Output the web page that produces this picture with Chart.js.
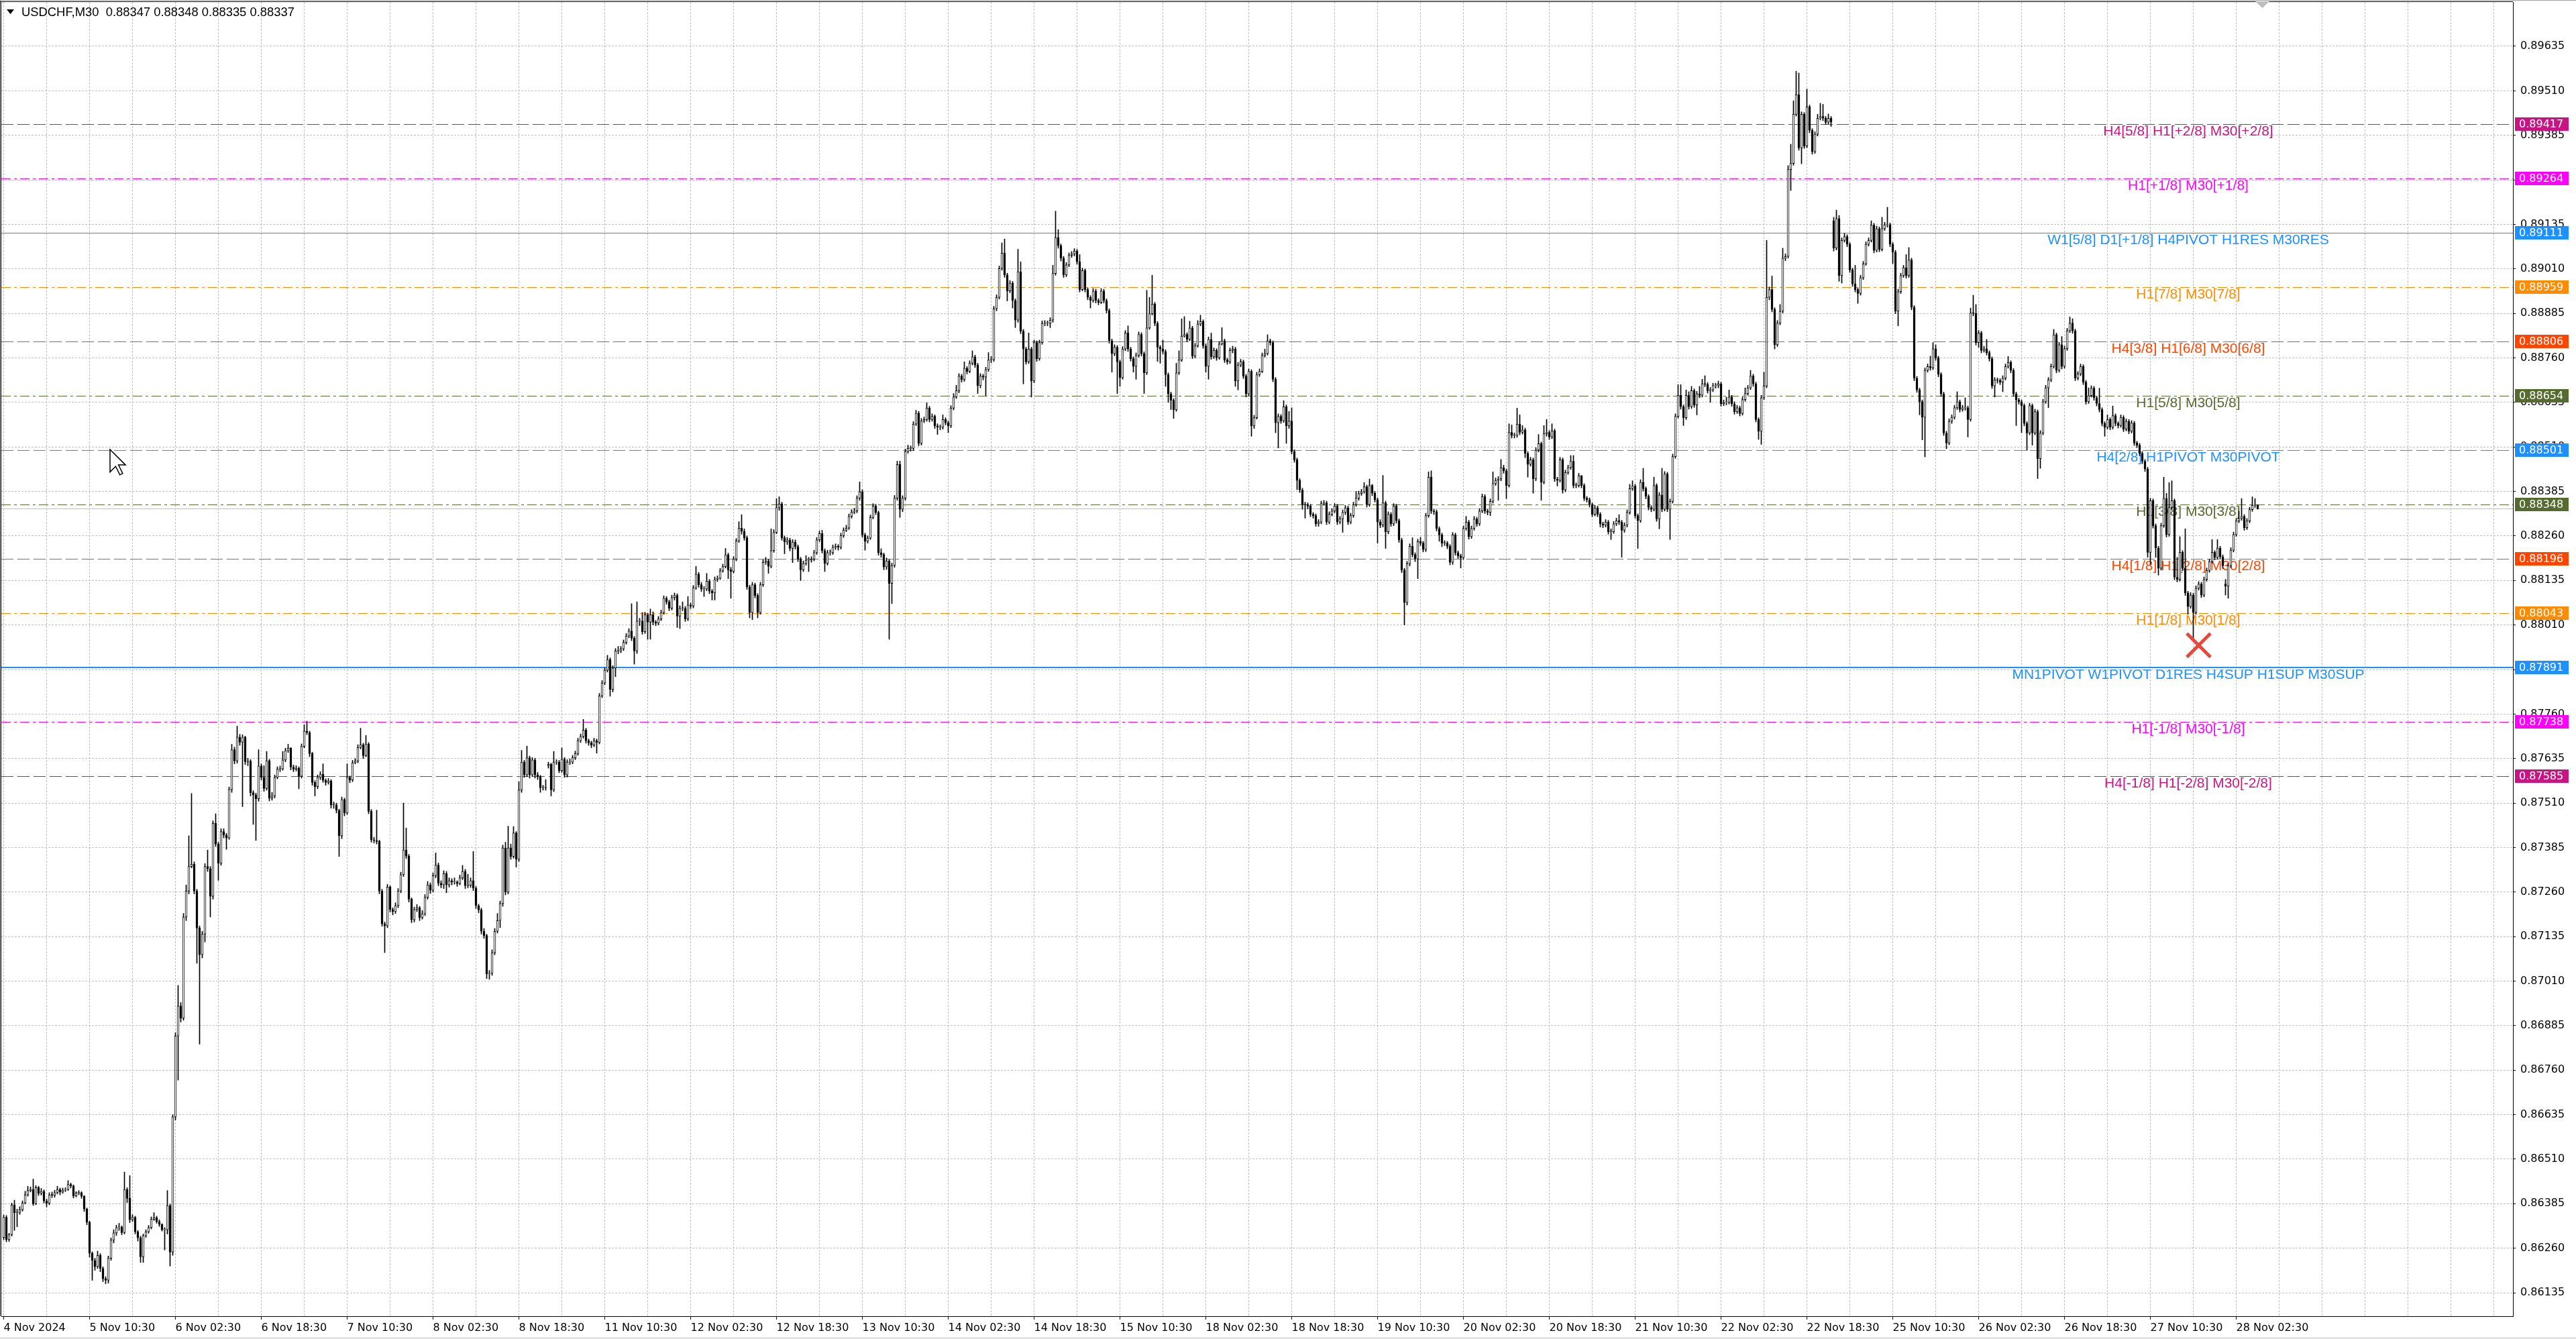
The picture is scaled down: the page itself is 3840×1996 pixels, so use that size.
<!DOCTYPE html>
<html>
<head>
<meta charset="utf-8">
<script src="https://cdn.jsdelivr.net/npm/chart.js@4.4.1/dist/chart.umd.min.js"></script>
<style>
  html, body { margin: 0; padding: 0; background: #fff; overflow: hidden; }
  #wrap { width: 3840px; height: 1996px; position: relative; }
</style>
</head>
<body>
<div id="wrap"><canvas id="chart" width="3840" height="1996"></canvas></div>
<script>
// USDCHF M30 with Murrey-math style levels, prices stored as points above 0.86000
const BASE = 0.86;

const symbolTitle = 'USDCHF,M30  0.88347 0.88348 0.88335 0.88337';

// one label every 32 bars (16 hours)
const timeLabels = ['4 Nov 2024', '5 Nov 10:30', '6 Nov 02:30', '6 Nov 18:30', '7 Nov 10:30', '8 Nov 02:30',
  '8 Nov 18:30', '11 Nov 10:30', '12 Nov 02:30', '12 Nov 18:30', '13 Nov 10:30', '14 Nov 02:30',
  '14 Nov 18:30', '15 Nov 10:30', '18 Nov 02:30', '18 Nov 18:30', '19 Nov 10:30', '20 Nov 02:30',
  '20 Nov 18:30', '21 Nov 10:30', '22 Nov 02:30', '22 Nov 18:30', '25 Nov 10:30', '26 Nov 02:30',
  '26 Nov 18:30', '27 Nov 10:30', '28 Nov 02:30'];

const yTickValues = [0.86135, 0.86260, 0.86385, 0.86510, 0.86635, 0.86760, 0.86885, 0.87010, 0.87135,
  0.87260, 0.87385, 0.87510, 0.87635, 0.87760, 0.87885, 0.88010, 0.88135, 0.88260, 0.88385, 0.88510,
  0.88635, 0.88760, 0.88885, 0.89010, 0.89135, 0.89260, 0.89385, 0.89510, 0.89635];

// close / high / low of every bar (points above 0.86000); open = previous close unless listed in gapOpens
const closePts = [
  347, 284, 298, 381, 360, 361, 368, 387, 410, 422,
  425, 385, 430, 414, 420, 393, 386, 410, 409, 416,
  425, 418, 423, 425, 439, 435, 407, 415, 416, 406,
  370, 333, 246, 226, 208, 240, 203, 174, 170, 232,
  283, 303, 318, 319, 304, 425, 400, 340, 347, 306,
  289, 236, 295, 306, 318, 341, 346, 335, 327, 312,
  312, 380, 249, 629, 856, 940, 906, 1190, 1263, 1332,
  1338, 1263, 1159, 1084, 1142, 1332, 1326, 1248, 1453, 1395,
  1341, 1430, 1420, 1412, 1548, 1660, 1628, 1695, 1681, 1695,
  1626, 1628, 1539, 1533, 1522, 1614, 1582, 1551, 1629, 1524,
  1530, 1582, 1605, 1606, 1631, 1657, 1664, 1611, 1605, 1608,
  1585, 1669, 1712, 1708, 1649, 1568, 1556, 1582, 1591, 1574,
  1568, 1572, 1505, 1505, 1490, 1418, 1520, 1482, 1582, 1575,
  1623, 1628, 1666, 1674, 1643, 1676, 1487, 1407, 1405, 1402,
  1263, 1171, 1165, 1274, 1211, 1205, 1222, 1263, 1309, 1378,
  1361, 1240, 1182, 1211, 1216, 1188, 1199, 1245, 1280, 1265,
  1306, 1336, 1285, 1280, 1312, 1280, 1292, 1288, 1288, 1284,
  1300, 1318, 1278, 1279, 1292, 1271, 1222, 1210, 1150, 1138,
  1030, 1032, 1090, 1150, 1180, 1228, 1384, 1260, 1384, 1360,
  1426, 1352, 1547, 1625, 1589, 1637, 1589, 1631, 1589, 1584,
  1553, 1553, 1553, 1619, 1547, 1625, 1625, 1601, 1633, 1589,
  1625, 1625, 1637, 1649, 1685, 1697, 1715, 1685, 1679, 1673,
  1685, 1680, 1811, 1847, 1883, 1913, 1829, 1889, 1937, 1937,
  1943, 1961, 1979, 1993, 1973, 1937, 2021, 2021, 1991, 2039,
  2018, 2039, 2018, 2015, 2027, 2045, 2085, 2075, 2057, 2087,
  2093, 2035, 2057, 2057, 2027, 2066, 2063, 2114, 2153, 2123,
  2111, 2111, 2133, 2105, 2100, 2138, 2141, 2162, 2174, 2207,
  2165, 2160, 2195, 2246, 2282, 2273, 2255, 2117, 2045, 2123,
  2093, 2045, 2123, 2186, 2190, 2175, 2219, 2270, 2340, 2350,
  2255, 2243, 2249, 2225, 2243, 2230, 2195, 2165, 2183, 2192,
  2192, 2195, 2213, 2249, 2267, 2219, 2183, 2213, 2213, 2228,
  2231, 2228, 2261, 2276, 2282, 2315, 2327, 2330, 2366, 2384,
  2263, 2245, 2254, 2312, 2344, 2326, 2213, 2208, 2173, 2190,
  2127, 2177, 2366, 2461, 2335, 2366, 2497, 2506, 2506, 2574,
  2605, 2520, 2583, 2587, 2619, 2587, 2596, 2569, 2565, 2565,
  2587, 2578, 2569, 2619, 2650, 2668, 2709, 2699, 2731, 2722,
  2745, 2763, 2740, 2682, 2709, 2706, 2727, 2754, 2755, 2898,
  2930, 3011, 3054, 2993, 2948, 2970, 2921, 2866, 3002, 2835,
  2785, 2749, 2785, 2695, 2803, 2758, 2803, 2857, 2857, 2857,
  2866, 2997, 3098, 3075, 3040, 2993, 3021, 3048, 3052, 3060,
  3030, 2952, 3005, 2952, 2930, 2921, 2948, 2921, 2916, 2948,
  2921, 2893, 2808, 2772, 2790, 2749, 2704, 2785, 2830, 2785,
  2758, 2736, 2767, 2826, 2772, 2718, 2844, 2884, 2911, 2857,
  2790, 2785, 2778, 2713, 2659, 2641, 2614, 2718, 2754, 2821,
  2826, 2812, 2844, 2765, 2794, 2855, 2862, 2794, 2736, 2812,
  2763, 2781, 2760, 2799, 2808, 2754, 2749, 2781, 2785, 2695,
  2740, 2749, 2709, 2659, 2722, 2569, 2592, 2713, 2722, 2767,
  2772, 2808, 2803, 2700, 2578, 2596, 2583, 2623, 2569, 2583,
  2497, 2474, 2416, 2389, 2348, 2348, 2344, 2321, 2317, 2294,
  2299, 2351, 2353, 2299, 2321, 2330, 2344, 2299, 2308, 2326,
  2339, 2299, 2317, 2348, 2366, 2379, 2384, 2398, 2348, 2402,
  2380, 2362, 2299, 2290, 2353, 2272, 2321, 2294, 2344, 2303,
  2249, 2164, 2073, 2182, 2231, 2208, 2195, 2244, 2240, 2222,
  2317, 2425, 2330, 2328, 2281, 2263, 2240, 2240, 2231, 2186,
  2263, 2213, 2204, 2199, 2281, 2299, 2258, 2281, 2308, 2294,
  2330, 2371, 2330, 2326, 2357, 2407, 2416, 2420, 2452, 2443,
  2402, 2551, 2542, 2542, 2574, 2551, 2558, 2492, 2461, 2474,
  2420, 2501, 2519, 2411, 2547, 2551, 2538, 2555, 2420, 2416,
  2474, 2389, 2438, 2452, 2470, 2402, 2402, 2429, 2402, 2366,
  2362, 2348, 2321, 2339, 2321, 2294, 2290, 2299, 2272, 2272,
  2294, 2303, 2299, 2276, 2290, 2326, 2393, 2400, 2317, 2303,
  2411, 2393, 2371, 2340, 2335, 2402, 2308, 2375, 2335, 2434,
  2335, 2357, 2483, 2596, 2655, 2623, 2592, 2655, 2623, 2668,
  2628, 2659, 2655, 2688, 2686, 2668, 2670, 2682, 2682, 2687,
  2631, 2635, 2635, 2650, 2631, 2609, 2620, 2604, 2643, 2660,
  2676, 2709, 2687, 2587, 2554, 2648, 2681, 2930, 2952, 2896,
  2797, 2858, 2891, 3040, 3045, 3289, 3306, 3444, 3499, 3350,
  3444, 3355, 3465, 3399, 3339, 3388, 3433, 3438, 3433, 3422,
  3433, 3422, 3068, 3151, 2991, 3090, 3101, 3079, 3007, 2968,
  2952, 2941, 2985, 3024, 3079, 3090, 3133, 3062, 3123, 3065,
  3123, 3134, 3134, 3079, 3057, 2891, 2946, 2991, 3013, 2991,
  3035, 2902, 2703, 2670, 2637, 2593, 2725, 2736, 2732, 2786,
  2760, 2714, 2659, 2549, 2521, 2582, 2593, 2620, 2637, 2615,
  2620, 2620, 2587, 2886, 2885, 2803, 2830, 2781, 2786, 2775,
  2758, 2681, 2698, 2697, 2692, 2703, 2736, 2747, 2725, 2659,
  2642, 2637, 2626, 2576, 2549, 2626, 2549, 2609, 2477, 2549,
  2637, 2676, 2698, 2736, 2825, 2725, 2797, 2736, 2786, 2836,
  2858, 2836, 2703, 2715, 2736, 2692, 2637, 2654, 2675, 2648,
  2632, 2615, 2576, 2565, 2587, 2565, 2598, 2576, 2570, 2593,
  2560, 2582, 2554, 2577, 2521, 2515, 2492, 2470, 2448, 2214,
  2359, 2289, 2226, 2169, 2289, 2365, 2264, 2340, 2359, 2144,
  2138, 2214, 2169, 2100, 2062, 2094, 2045, 2113, 2125, 2094,
  2138, 2163, 2188, 2214, 2200, 2226, 2202, 2176, 2119, 2176,
  2220, 2264, 2302, 2309, 2315, 2283, 2302, 2334, 2346, 2347,
  2337
];

const highPts = [
  353, 352, 302, 387, 395, 370, 377, 393, 420, 434,
  432, 454, 436, 434, 428, 424, 398, 416, 418, 423,
  434, 429, 429, 430, 450, 443, 438, 419, 422, 419,
  408, 373, 336, 250, 232, 252, 245, 208, 180, 238,
  289, 312, 325, 330, 323, 474, 430, 464, 354, 350,
  310, 294, 300, 312, 324, 348, 360, 350, 340, 329,
  318, 422, 384, 635, 865, 998, 950, 1200, 1280, 1418,
  1537, 1345, 1268, 1165, 1150, 1340, 1378, 1332, 1460, 1480,
  1400, 1438, 1438, 1425, 1555, 1675, 1667, 1726, 1703, 1702,
  1698, 1636, 1632, 1545, 1538, 1660, 1620, 1615, 1655, 1633,
  1540, 1589, 1612, 1614, 1655, 1664, 1675, 1666, 1617, 1615,
  1612, 1676, 1730, 1740, 1712, 1653, 1573, 1589, 1598, 1620,
  1578, 1579, 1576, 1513, 1510, 1493, 1527, 1524, 1620, 1586,
  1630, 1635, 1674, 1720, 1678, 1700, 1680, 1492, 1414, 1490,
  1406, 1268, 1176, 1282, 1278, 1216, 1230, 1270, 1316, 1510,
  1440, 1366, 1244, 1218, 1225, 1220, 1208, 1253, 1290, 1286,
  1314, 1370, 1342, 1292, 1320, 1318, 1300, 1298, 1300, 1292,
  1308, 1335, 1324, 1310, 1300, 1374, 1276, 1226, 1215, 1158,
  1142, 1040, 1098, 1158, 1200, 1235, 1392, 1400, 1445, 1395,
  1444, 1430, 1570, 1658, 1630, 1670, 1642, 1638, 1636, 1596,
  1588, 1560, 1576, 1625, 1622, 1655, 1632, 1630, 1665, 1638,
  1632, 1634, 1644, 1656, 1692, 1704, 1745, 1720, 1690, 1684,
  1692, 1690, 1818, 1854, 1890, 1925, 1918, 1896, 1944, 1950,
  1950, 1968, 1986, 2000, 2070, 1978, 2075, 2029, 2045, 2046,
  2043, 2055, 2047, 2023, 2034, 2052, 2092, 2090, 2080, 2094,
  2100, 2098, 2064, 2075, 2062, 2090, 2072, 2121, 2175, 2158,
  2130, 2118, 2155, 2138, 2110, 2145, 2148, 2169, 2181, 2225,
  2212, 2172, 2202, 2253, 2300, 2320, 2280, 2260, 2122, 2130,
  2128, 2098, 2130, 2193, 2200, 2195, 2280, 2278, 2365, 2370,
  2355, 2260, 2256, 2254, 2250, 2249, 2235, 2200, 2190, 2205,
  2200, 2202, 2220, 2256, 2274, 2276, 2224, 2220, 2221, 2235,
  2238, 2236, 2268, 2283, 2290, 2322, 2334, 2338, 2373, 2412,
  2390, 2268, 2260, 2319, 2351, 2349, 2330, 2224, 2212, 2198,
  2194, 2184, 2374, 2470, 2470, 2373, 2504, 2515, 2513, 2581,
  2613, 2610, 2590, 2594, 2634, 2624, 2603, 2600, 2575, 2572,
  2600, 2592, 2583, 2626, 2660, 2683, 2716, 2714, 2749, 2736,
  2752, 2780, 2768, 2745, 2716, 2714, 2734, 2775, 2764, 2905,
  2937, 3018, 3083, 3094, 2998, 2977, 2975, 2926, 3065, 3030,
  2840, 2790, 2830, 2790, 2810, 2808, 2810, 2864, 2865, 2864,
  2873, 3020, 3172, 3120, 3080, 3045, 3028, 3055, 3059, 3067,
  3065, 3050, 3012, 3010, 2957, 2935, 2955, 2953, 2926, 2955,
  2953, 2926, 2898, 2813, 2797, 2795, 2754, 2792, 2837, 2850,
  2790, 2763, 2774, 2833, 2831, 2777, 2950, 2930, 2992, 2916,
  2862, 2795, 2810, 2783, 2718, 2664, 2646, 2745, 2780, 2870,
  2876, 2831, 2863, 2849, 2801, 2865, 2880, 2867, 2800, 2819,
  2830, 2788, 2786, 2806, 2845, 2813, 2759, 2788, 2793, 2790,
  2747, 2756, 2754, 2714, 2729, 2727, 2599, 2720, 2729, 2774,
  2785, 2825, 2813, 2808, 2705, 2603, 2601, 2640, 2628, 2610,
  2620, 2502, 2479, 2421, 2394, 2355, 2353, 2349, 2326, 2322,
  2306, 2358, 2360, 2358, 2328, 2337, 2351, 2349, 2315, 2333,
  2346, 2344, 2324, 2355, 2385, 2386, 2391, 2410, 2403, 2420,
  2405, 2385, 2367, 2306, 2430, 2358, 2328, 2326, 2351, 2349,
  2308, 2254, 2169, 2189, 2238, 2255, 2213, 2251, 2256, 2245,
  2324, 2440, 2443, 2335, 2333, 2286, 2268, 2247, 2245, 2236,
  2270, 2268, 2218, 2209, 2288, 2315, 2304, 2288, 2315, 2313,
  2337, 2378, 2376, 2335, 2364, 2440, 2423, 2427, 2475, 2459,
  2448, 2575, 2572, 2549, 2619, 2600, 2570, 2563, 2497, 2481,
  2479, 2508, 2545, 2524, 2570, 2587, 2556, 2575, 2560, 2425,
  2481, 2479, 2445, 2459, 2486, 2486, 2409, 2436, 2430, 2407,
  2371, 2367, 2353, 2346, 2344, 2326, 2299, 2306, 2304, 2280,
  2301, 2310, 2320, 2304, 2297, 2333, 2405, 2415, 2405, 2322,
  2418, 2450, 2398, 2376, 2345, 2425, 2407, 2382, 2450, 2441,
  2439, 2364, 2490, 2603, 2685, 2685, 2628, 2670, 2665, 2680,
  2673, 2666, 2680, 2700, 2710, 2691, 2677, 2689, 2689, 2695,
  2692, 2642, 2650, 2670, 2655, 2637, 2627, 2625, 2650, 2676,
  2683, 2725, 2714, 2692, 2592, 2655, 2720, 3090, 2959, 2990,
  2901, 2865, 2910, 3068, 3052, 3300, 3360, 3482, 3565, 3560,
  3451, 3449, 3515, 3470, 3404, 3395, 3444, 3475, 3472, 3438,
  3445, 3438, 3155, 3175, 3160, 3097, 3110, 3106, 3084, 3012,
  3020, 2957, 2992, 3031, 3086, 3097, 3145, 3138, 3130, 3128,
  3155, 3141, 3183, 3139, 3084, 3062, 2953, 2998, 3020, 3050,
  3070, 3040, 2907, 2708, 2675, 2642, 2732, 2743, 2765, 2803,
  2797, 2765, 2719, 2664, 2554, 2589, 2600, 2627, 2665, 2642,
  2627, 2648, 2625, 2900, 2936, 2910, 2837, 2835, 2793, 2812,
  2780, 2763, 2705, 2704, 2702, 2710, 2743, 2764, 2752, 2730,
  2664, 2647, 2642, 2631, 2581, 2633, 2631, 2616, 2614, 2556,
  2644, 2683, 2705, 2743, 2840, 2830, 2804, 2820, 2793, 2843,
  2875, 2870, 2841, 2722, 2743, 2741, 2697, 2676, 2682, 2680,
  2653, 2675, 2620, 2581, 2600, 2592, 2625, 2603, 2581, 2600,
  2598, 2589, 2587, 2584, 2582, 2526, 2520, 2497, 2475, 2453,
  2366, 2364, 2294, 2231, 2296, 2425, 2380, 2410, 2415, 2364,
  2200, 2258, 2219, 2280, 2105, 2101, 2099, 2120, 2132, 2130,
  2145, 2170, 2195, 2250, 2219, 2250, 2231, 2207, 2138, 2183,
  2227, 2271, 2309, 2330, 2365, 2320, 2309, 2341, 2370, 2365,
  2348
];

const lowPts = [
  284, 278, 279, 294, 310, 320, 355, 364, 384, 406,
  418, 380, 382, 408, 409, 387, 376, 382, 402, 403,
  412, 410, 414, 419, 422, 429, 401, 404, 410, 400,
  363, 326, 235, 170, 198, 203, 194, 166, 160, 162,
  226, 275, 296, 310, 298, 300, 388, 332, 335, 300,
  280, 220, 220, 290, 302, 314, 338, 330, 321, 308,
  255, 300, 210, 240, 620, 732, 895, 900, 1180, 1255,
  1328, 1255, 1060, 833, 1075, 1120, 1318, 1190, 1240, 1388,
  1293, 1335, 1412, 1380, 1408, 1540, 1620, 1622, 1672, 1500,
  1618, 1615, 1530, 1450, 1405, 1515, 1575, 1543, 1546, 1516,
  1518, 1524, 1578, 1598, 1602, 1626, 1652, 1603, 1598, 1600,
  1550, 1580, 1665, 1702, 1640, 1560, 1530, 1550, 1576, 1568,
  1560, 1563, 1496, 1495, 1482, 1360, 1410, 1474, 1478, 1567,
  1570, 1620, 1623, 1662, 1635, 1640, 1480, 1400, 1398, 1395,
  1255, 1164, 1090, 1160, 1204, 1196, 1200, 1216, 1258, 1304,
  1354, 1232, 1174, 1176, 1205, 1180, 1184, 1194, 1240, 1256,
  1260, 1300, 1278, 1272, 1270, 1258, 1274, 1280, 1282, 1276,
  1280, 1295, 1270, 1272, 1273, 1264, 1214, 1202, 1142, 1130,
  1017, 1015, 1026, 1084, 1145, 1160, 1220, 1252, 1255, 1352,
  1355, 1330, 1346, 1540, 1582, 1584, 1580, 1584, 1580, 1576,
  1540, 1546, 1546, 1608, 1530, 1542, 1618, 1595, 1596, 1582,
  1583, 1618, 1620, 1632, 1644, 1680, 1692, 1678, 1672, 1665,
  1668, 1650, 1676, 1806, 1842, 1878, 1810, 1822, 1865, 1929,
  1932, 1938, 1956, 1974, 1966, 1900, 1930, 2008, 1984, 1986,
  1970, 1970, 2010, 2008, 2010, 2022, 2040, 2068, 2050, 2052,
  2080, 2003, 2000, 2050, 2020, 2022, 2056, 2058, 2110, 2116,
  2104, 2090, 2106, 2098, 2080, 2080, 2132, 2138, 2158, 2170,
  2140, 2085, 2156, 2190, 2242, 2265, 2248, 2110, 2030, 2025,
  2086, 2030, 2040, 2118, 2180, 2155, 2170, 2214, 2266, 2332,
  2248, 2210, 2236, 2218, 2185, 2223, 2188, 2135, 2160, 2178,
  2160, 2186, 2190, 2208, 2244, 2212, 2160, 2178, 2206, 2208,
  2222, 2220, 2223, 2256, 2272, 2278, 2310, 2322, 2325, 2360,
  2256, 2220, 2240, 2250, 2308, 2320, 2206, 2200, 2165, 2166,
  1970, 2070, 2172, 2360, 2312, 2328, 2360, 2492, 2498, 2500,
  2570, 2513, 2515, 2578, 2582, 2580, 2582, 2562, 2545, 2558,
  2560, 2572, 2550, 2564, 2614, 2646, 2662, 2692, 2694, 2715,
  2718, 2740, 2733, 2660, 2676, 2698, 2654, 2722, 2746, 2750,
  2892, 2925, 3006, 2986, 2920, 2943, 2900, 2845, 2860, 2828,
  2687, 2742, 2744, 2650, 2690, 2750, 2753, 2798, 2850, 2850,
  2845, 2860, 2992, 3068, 3032, 2986, 2988, 3016, 3042, 3046,
  3023, 2945, 2948, 2945, 2923, 2900, 2916, 2914, 2909, 2912,
  2914, 2886, 2801, 2720, 2766, 2660, 2680, 2700, 2780, 2778,
  2751, 2720, 2700, 2762, 2765, 2660, 2713, 2840, 2880, 2850,
  2750, 2745, 2771, 2680, 2635, 2615, 2590, 2610, 2713, 2750,
  2818, 2805, 2808, 2758, 2760, 2790, 2850, 2787, 2720, 2700,
  2756, 2758, 2753, 2756, 2796, 2747, 2742, 2744, 2774, 2680,
  2670, 2735, 2702, 2650, 2654, 2540, 2562, 2588, 2708, 2718,
  2762, 2768, 2796, 2693, 2550, 2507, 2576, 2579, 2520, 2562,
  2490, 2467, 2390, 2382, 2335, 2310, 2336, 2314, 2310, 2287,
  2287, 2294, 2346, 2292, 2294, 2316, 2325, 2292, 2294, 2270,
  2320, 2292, 2294, 2312, 2343, 2360, 2374, 2380, 2341, 2343,
  2373, 2355, 2240, 2283, 2285, 2225, 2266, 2287, 2289, 2296,
  2242, 2157, 2010, 2066, 2176, 2201, 2188, 2140, 2233, 2215,
  2216, 2312, 2323, 2320, 2274, 2245, 2230, 2233, 2224, 2179,
  2180, 2206, 2197, 2170, 2194, 2276, 2251, 2253, 2276, 2287,
  2289, 2325, 2323, 2319, 2317, 2352, 2402, 2360, 2415, 2436,
  2365, 2397, 2535, 2535, 2537, 2544, 2546, 2480, 2425, 2456,
  2380, 2415, 2496, 2360, 2406, 2540, 2531, 2533, 2413, 2400,
  2411, 2380, 2384, 2433, 2447, 2395, 2395, 2397, 2395, 2359,
  2355, 2341, 2314, 2316, 2314, 2285, 2283, 2285, 2265, 2250,
  2267, 2289, 2292, 2200, 2270, 2285, 2321, 2388, 2310, 2225,
  2298, 2386, 2364, 2333, 2328, 2330, 2301, 2280, 2328, 2330,
  2328, 2250, 2352, 2478, 2591, 2616, 2570, 2587, 2616, 2618,
  2621, 2600, 2648, 2650, 2679, 2661, 2635, 2665, 2675, 2676,
  2624, 2626, 2628, 2630, 2624, 2602, 2604, 2597, 2599, 2638,
  2655, 2671, 2680, 2580, 2531, 2517, 2643, 2676, 2923, 2889,
  2785, 2792, 2853, 2886, 3033, 3040, 3230, 3301, 3439, 3343,
  3305, 3348, 3350, 3392, 3332, 3334, 3383, 3428, 3426, 3415,
  3417, 3410, 3060, 3063, 2975, 2970, 3085, 3072, 3000, 2961,
  2945, 2913, 2936, 2980, 3020, 3074, 3085, 3055, 3057, 3058,
  3060, 3118, 3127, 3072, 3025, 2884, 2850, 2941, 2986, 2984,
  2986, 2895, 2696, 2663, 2600, 2530, 2482, 2720, 2725, 2727,
  2753, 2707, 2652, 2542, 2505, 2516, 2576, 2588, 2615, 2608,
  2610, 2613, 2538, 2582, 2878, 2796, 2790, 2774, 2776, 2768,
  2751, 2674, 2650, 2689, 2685, 2665, 2698, 2731, 2718, 2652,
  2570, 2630, 2550, 2569, 2500, 2544, 2515, 2544, 2421, 2450,
  2544, 2632, 2620, 2693, 2731, 2718, 2720, 2729, 2731, 2781,
  2831, 2829, 2696, 2698, 2710, 2685, 2630, 2632, 2650, 2641,
  2625, 2608, 2569, 2540, 2560, 2558, 2560, 2569, 2563, 2565,
  2553, 2555, 2547, 2549, 2514, 2508, 2485, 2463, 2441, 2200,
  2180, 2282, 2200, 2150, 2164, 2284, 2257, 2259, 2335, 2137,
  2131, 2133, 2162, 2093, 2040, 2057, 1968, 2040, 2108, 2087,
  2089, 2133, 2158, 2183, 2193, 2195, 2195, 2169, 2094, 2085,
  2171, 2215, 2259, 2297, 2304, 2276, 2278, 2297, 2329, 2340,
  2335
];

// bars whose open is not the previous close: [bar, open points]
const gapOpens = [[0, 290], [203, 1615], [682, 3145], [828, 2125]];

// murrey / pivot levels drawn as horizontal objects
const levelPrices = [0.89417, 0.89264, 0.89111, 0.88959, 0.88806, 0.88654, 0.88501,
  0.88348, 0.88196, 0.88043, 0.87891, 0.87738, 0.87585];
const levelNames = ['H4[5/8] H1[+2/8] M30[+2/8]', 'H1[+1/8] M30[+1/8]',
  'W1[5/8] D1[+1/8] H4PIVOT H1RES M30RES', 'H1[7/8] M30[7/8]', 'H4[3/8] H1[6/8] M30[6/8]',
  'H1[5/8] M30[5/8]', 'H4[2/8] H1PIVOT M30PIVOT', 'H1[3/8] M30[3/8]', 'H4[1/8] H1[2/8] M30[2/8]',
  'H1[1/8] M30[1/8]', 'MN1PIVOT W1PIVOT D1RES H4SUP H1SUP M30SUP', 'H1[-1/8] M30[-1/8]',
  'H4[-1/8] H1[-2/8] M30[-2/8]'];

const bidPrice = 0.88337;
const signalBar = 818;
const signalPrice = 0.87953;

// ---- styles ----
const VIOLET = '#c71585', MAGENTA = '#ff00ff', BLUE = '#1e90ff', ORANGE = '#ff8c00',
  RED = '#ff4500', OLIVE = '#556b2f';
const DASH = [18, 6], DASHDOT = [14, 5, 4, 5], SOLID = [];
const levelColors = [VIOLET, MAGENTA, BLUE, ORANGE, RED, OLIVE, BLUE, OLIVE, RED, ORANGE, BLUE, MAGENTA, VIOLET];
const levelDash = [DASH, DASHDOT, SOLID, DASHDOT, DASH, DASHDOT, DASH, DASHDOT, DASH, DASHDOT, SOLID, DASHDOT, DASH];
const levelWidth = [1, 1, 1, 1, 1, 1, 1, 1, 1, 1, 2, 1, 1];

const AXIS_FONT = '"DejaVu Sans", Verdana, sans-serif';
const TEXT_FONT = '"Liberation Sans", Arial, sans-serif';
const BAR_PX = 4;           // pixels per bar
const RIGHT_AXIS_W = 94;
const BOTTOM_AXIS_H = 34;

// ---- build candles ----
const n = closePts.length;
if (highPts.length !== n || lowPts.length !== n) {
  throw new Error('array length mismatch ' + n + ' ' + highPts.length + ' ' + lowPts.length);
}
const gapMap = new Map(gapOpens);
const toPrice = (v) => BASE + v / 100000;
const candles = closePts.map((c, i) => {
  const o = gapMap.has(i) ? gapMap.get(i) : closePts[i - 1];
  return { i, o: toPrice(o), c: toPrice(c), h: toPrice(highPts[i]), l: toPrice(lowPts[i]) };
});

const wickData = candles.map((k) => ({ x: k.i, y: [k.l, k.h] }));
const bodyData = candles.map((k) => ({ x: k.i, y: [Math.min(k.o, k.c), Math.max(k.o, k.c)] }));
const bodyFill = candles.map((k) => (k.c >= k.o ? '#ffffff' : '#000000'));

const gridBars = [];
for (let b = 0; b <= 928; b += 16) gridBars.push(b);
const hasTimeLabel = (v) => v % 32 === 0 && timeLabels[v / 32] !== undefined;

// ---- plot area geometry (matches the terminal window) ----
const plotLeft = 2, plotTop = 3;
const plotRight = 3840 - RIGHT_AXIS_W, plotBottom = 1996 - BOTTOM_AXIS_H;
const xMin = -0.875;
const xMax = xMin + (plotRight - plotLeft) / BAR_PX;
const pxPerUnit = 53087; // vertical pixels per 1.0 of price
const yMax = 0.89635 + (69 - plotTop) / pxPerUnit;
const yMin = yMax - (plotBottom - plotTop) / pxPerUnit;

const mtPlugin = {
  id: 'mtObjects',
  beforeDatasetsDraw(chart) {
    const { ctx, chartArea: a, scales: { y } } = chart;
    ctx.save();
    ctx.beginPath();
    ctx.rect(a.left, a.top, a.right - a.left, a.bottom - a.top);
    ctx.clip();

    // bid line
    const by = Math.round(y.getPixelForValue(bidPrice)) + 0.5;
    ctx.strokeStyle = '#c0c0c0';
    ctx.lineWidth = 1;
    ctx.setLineDash([]);
    ctx.beginPath(); ctx.moveTo(a.left, by); ctx.lineTo(a.right, by); ctx.stroke();

    levelPrices.forEach((p, k) => {
      const w = levelWidth[k];
      const ly = Math.round(y.getPixelForValue(p)) + (w % 2 ? 0.5 : 0);
      ctx.strokeStyle = levelColors[k];
      ctx.lineWidth = w;
      ctx.setLineDash(levelDash[k]);
      ctx.beginPath(); ctx.moveTo(a.left, ly); ctx.lineTo(a.right, ly); ctx.stroke();
    });

    ctx.setLineDash([]);
    ctx.font = '21px ' + TEXT_FONT;
    ctx.textAlign = 'center';
    ctx.textBaseline = 'middle';
    levelPrices.forEach((p, k) => {
      const ly = y.getPixelForValue(p);
      ctx.fillStyle = levelColors[k];
      ctx.fillText(levelNames[k], a.right - 484, ly + 11);
    });
    ctx.restore();
  },
  afterDraw(chart) {
    const { ctx, chartArea: a, scales: { y } } = chart;
    ctx.save();
    // price tags on the right axis
    ctx.font = '16px ' + AXIS_FONT;
    ctx.textAlign = 'left';
    ctx.textBaseline = 'middle';
    levelPrices.forEach((p, k) => {
      const ly = Math.round(y.getPixelForValue(p));
      ctx.fillStyle = levelColors[k];
      ctx.fillRect(a.right + 3, ly - 10, 80, 20);
      ctx.fillStyle = '#ffffff';
      ctx.fillText(p.toFixed(5), a.right + 9, ly + 1);
    });

    // window frame
    ctx.fillStyle = '#a0a0a0';
    ctx.fillRect(0, 0, 3840, 1);
    ctx.fillRect(0, 0, 1, a.bottom);
    ctx.fillStyle = '#000000';
    ctx.fillRect(0, a.top - 1, a.right, 1);
    ctx.fillRect(a.left - 1, a.top - 1, 1, a.bottom - a.top + 1);
    ctx.fillStyle = '#e3e3e3';
    ctx.fillRect(0, 1993, 3840, 3);

    // chart shift marker
    ctx.fillStyle = '#bdbdbd';
    ctx.beginPath();
    ctx.moveTo(3362, 2); ctx.lineTo(3383, 2); ctx.lineTo(3372.5, 12); ctx.closePath(); ctx.fill();

    // title
    ctx.fillStyle = '#000000';
    ctx.beginPath();
    ctx.moveTo(10, 14); ctx.lineTo(21, 14); ctx.lineTo(15.5, 21); ctx.closePath(); ctx.fill();
    ctx.font = '18.4px ' + TEXT_FONT;
    ctx.textBaseline = 'middle';
    ctx.fillText(symbolTitle, 32, 19);

    // mouse pointer
    const cx = 164, cy = 670, s = 2.1;
    const pts = [[0, 0], [0, 16], [4, 12], [7, 18], [9, 17], [6, 11], [11, 11]];
    ctx.beginPath();
    pts.forEach(([px, py], j) => (j ? ctx.lineTo(cx + px * s, cy + py * s) : ctx.moveTo(cx + px * s, cy + py * s)));
    ctx.closePath();
    ctx.fillStyle = '#ffffff';
    ctx.fill();
    ctx.lineWidth = 1.5;
    ctx.strokeStyle = '#000000';
    ctx.stroke();
    ctx.restore();
  }
};

Chart.defaults.font.family = AXIS_FONT;
Chart.defaults.font.size = 16;
Chart.defaults.color = '#000000';

new Chart(document.getElementById('chart'), {
  type: 'bar',
  data: {
    datasets: [
      {
        type: 'scatter',
        label: 'signal',
        data: [{ x: signalBar, y: signalPrice }],
        pointStyle: 'crossRot',
        pointRadius: 25,
        borderWidth: 5,
        borderColor: '#e8473d',
        backgroundColor: '#e8473d'
      },
      {
        label: 'body',
        data: bodyData,
        backgroundColor: bodyFill,
        borderColor: '#000000',
        borderWidth: 1,
        borderSkipped: false,
        barThickness: 3,
        minBarLength: 1,
        grouped: false
      },
      {
        label: 'wick',
        data: wickData,
        backgroundColor: '#000000',
        borderWidth: 0,
        barThickness: 1,
        minBarLength: 1,
        grouped: false
      }
    ]
  },
  options: {
    responsive: false,
    animation: false,
    devicePixelRatio: 1,
    events: [],
    layout: { autoPadding: false, padding: { left: plotLeft, top: plotTop, right: 0, bottom: 0 } },
    plugins: { legend: { display: false }, tooltip: { enabled: false } },
    scales: {
      x: {
        type: 'linear',
        min: xMin,
        max: xMax,
        offset: false,
        grid: {
          offset: false,
          color: '#c0c0c0',
          lineWidth: 1,
          tickLength: 5,
          tickColor: (c) => (c.tick && hasTimeLabel(c.tick.value) ? '#000000' : 'rgba(0,0,0,0)')
        },
        border: { display: true, color: '#000000', width: 1, dash: [3, 2] },
        afterBuildTicks: (s) => { s.ticks = gridBars.map((v) => ({ value: v })); },
        afterFit: (s) => { s.height = BOTTOM_AXIS_H; s.paddingLeft = 0; s.paddingRight = 0; },
        ticks: {
          autoSkip: false,
          maxRotation: 0,
          minRotation: 0,
          align: 'start',
          padding: 3,
          color: '#000000',
          font: { size: 16 },
          callback: (v) => (hasTimeLabel(v) ? timeLabels[v / 32] : '')
        }
      },
      y: {
        type: 'linear',
        position: 'right',
        min: yMin,
        max: yMax,
        grid: { color: '#c0c0c0', lineWidth: 1, tickLength: 4, tickColor: '#000000' },
        border: { display: true, color: '#000000', width: 1, dash: [3, 2] },
        afterBuildTicks: (s) => { s.ticks = yTickValues.map((v) => ({ value: v })); },
        afterFit: (s) => { s.width = RIGHT_AXIS_W; s.paddingTop = 0; s.paddingBottom = 0; },
        ticks: {
          padding: 7,
          color: '#000000',
          font: { size: 16 },
          callback: (v) => Number(v).toFixed(5)
        }
      }
    }
  },
  plugins: [mtPlugin]
});
</script>
</body>
</html>
